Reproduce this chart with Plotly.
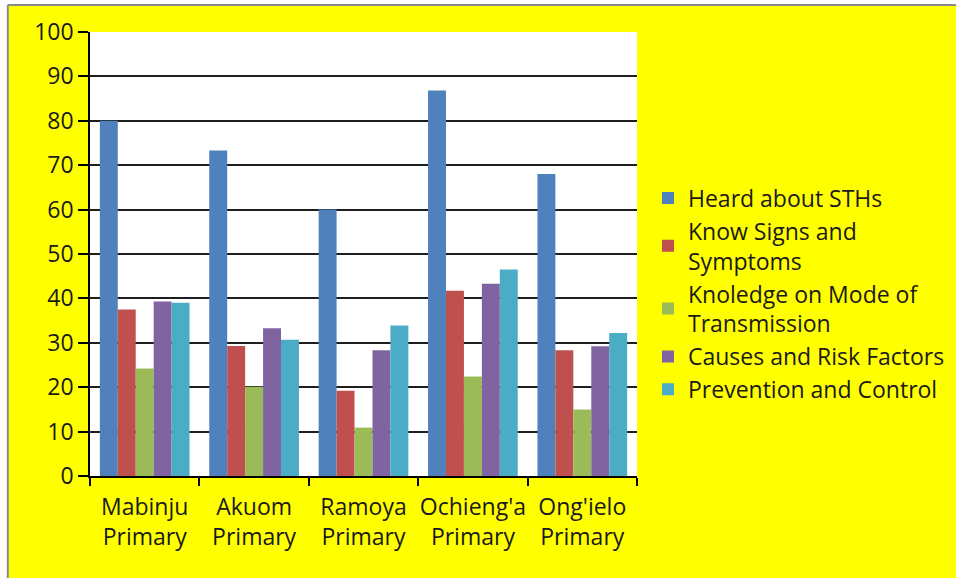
import plotly.graph_objects as go

schools = ["Mabinju<br>Primary", "Akuom<br>Primary", "Ramoya<br>Primary",
           "Ochieng'a<br>Primary", "Ong'ielo<br>Primary"]

heard_about_sths = [80.0, 73.3, 60.0, 86.8, 68.0]
know_signs_symptoms = [37.5, 29.3, 19.2, 41.7, 28.3]
mode_of_transmission = [24.2, 20.1, 10.9, 22.4, 15.0]
causes_risk_factors = [39.3, 33.3, 28.3, 43.3, 29.2]
prevention_control = [39.0, 30.7, 33.9, 46.5, 32.2]

series = [
    ("Heard about STHs", heard_about_sths, "#4F81BD"),
    ("Know Signs and<br>Symptoms", know_signs_symptoms, "#C0504D"),
    ("Knoledge on Mode of<br>Transmission", mode_of_transmission, "#9BBB59"),
    ("Causes and Risk Factors", causes_risk_factors, "#8064A2"),
    ("Prevention and Control", prevention_control, "#4BACC6"),
]

FONT = "Open Sans, Calibri, sans-serif"
TXT = "#1a1a1a"
FS = 23

fig = go.Figure()
for name, vals, color in series:
    fig.add_trace(go.Bar(x=schools, y=vals, name=name,
                         marker=dict(color=color, line=dict(width=0))))

fig.update_layout(
    width=956, height=578,
    margin=dict(l=90, r=319, t=32, b=102, autoexpand=False),
    paper_bgcolor="#FFFF00",
    plot_bgcolor="#FFFFFF",
    barmode="group",
    bargap=0.18,
    bargroupgap=0,
    font=dict(family=FONT, size=FS, color=TXT),
    showlegend=True,
    legend=dict(
        x=1.0201, xanchor="left", y=0.41, yanchor="middle",
        bgcolor="rgba(0,0,0,0)",
        font=dict(family=FONT, size=FS, color=TXT),
        itemwidth=30,
    ),
    xaxis=dict(
        showline=True, linecolor="#000000", linewidth=1.5,
        ticks="outside", tickson="boundaries", ticklen=8,
        tickcolor="#000000", tickwidth=1.5,
        tickangle=0, automargin=False,
        ticklabelstandoff=10,
        tickfont=dict(family=FONT, size=FS, color=TXT),
        showgrid=False,
    ),
    yaxis=dict(
        range=[0, 100], dtick=10, tick0=0,
        showline=True, linecolor="#000000", linewidth=1.5,
        ticks="outside", ticklen=10, tickcolor="#000000", tickwidth=1.5,
        automargin=False,
        showgrid=True, gridcolor="#1e1e1e", gridwidth=1.6,
        zeroline=False,
        tickfont=dict(family=FONT, size=FS, color=TXT),
    ),
    shapes=[
        # white strips outside the chart frame (top and left)
        dict(type="rect", xref="paper", yref="paper",
             x0=-0.2, x1=1.7, y0=1.0608, y1=1.2,
             fillcolor="#FFFFFF", line=dict(width=0), layer="above"),
        dict(type="rect", xref="paper", yref="paper",
             x0=-0.2, x1=-0.1503, y0=-0.3, y1=1.2,
             fillcolor="#FFFFFF", line=dict(width=0), layer="above"),
        # grey frame edges
        dict(type="line", xref="paper", yref="paper",
             x0=-0.1503, x1=1.7, y0=1.0608, y1=1.0608,
             line=dict(color="#8A8A8A", width=2), layer="above"),
        dict(type="line", xref="paper", yref="paper",
             x0=-0.1503, x1=-0.1503, y0=-0.3, y1=1.0608,
             line=dict(color="#8A8A8A", width=2), layer="above"),
    ],
)

fig.write_html("out.html")
